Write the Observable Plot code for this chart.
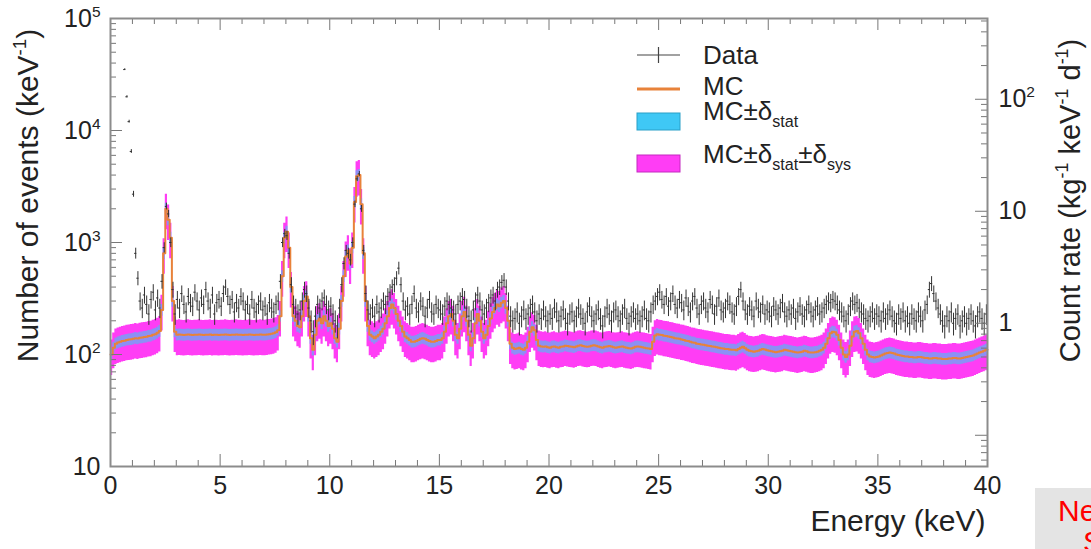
<!DOCTYPE html>
<html><head><meta charset="utf-8">
<script src="https://cdn.jsdelivr.net/npm/d3@7"></script>
<script src="https://cdn.jsdelivr.net/npm/@observablehq/plot@0.6"></script>
<style>
html,body{margin:0;padding:0;background:#fff;overflow:hidden;}
#wrap{position:relative;width:1091px;height:549px;overflow:hidden;}
#note{position:absolute;left:1035px;top:488px;width:120px;height:80px;background:#e4e4e4;font-family:"Liberation Sans",Arial,sans-serif;font-size:30px;color:#f00;}
#note span{position:absolute;white-space:nowrap;line-height:28px;}
</style></head><body><div id="wrap"><div id="note"><span style="left:23px;top:9px">Ne</span><span style="left:48px;top:40px">S</span></div></div>
<script>
// ---- data (0.1 keV bins, 0–40 keV) ----
const binWidth = 0.1;
const mcValues = [
100,115,125,128,130,132,133,135,136,137,
138,140,139,141,142,143,144,146,147,150,
152,156,162,250,800,2000,1600,1100,300,160,
150,151,150,149,150,151,150,149,150,150,
151,150,149,150,150,151,149,150,150,149,
150,150,151,150,149,150,150,151,150,150,
149,150,150,151,150,149,150,150,151,150,
150,151,152,153,155,158,165,220,500,1100,
1250,900,400,220,200,180,175,220,300,330,
220,140,110,150,200,210,190,220,200,180,
190,170,140,130,170,300,500,750,850,650,
900,2300,3900,4000,2200,800,300,180,150,145,
140,145,150,160,170,190,220,260,280,260,
230,200,180,160,145,140,135,130,130,132,
135,138,140,138,135,132,130,130,132,135,
135,140,160,190,220,230,200,150,140,170,
220,240,200,150,120,140,190,230,200,160,
140,150,180,210,240,260,280,270,290,300,
260,200,125,115,112,113,115,112,110,115,
130,160,175,165,135,120,118,117,118,116,
115,117,118,116,115,117,118,120,119,118,
117,116,118,120,121,119,118,117,118,120,
121,120,118,116,115,117,118,119,118,116,
115,116,117,118,116,115,114,113,115,117,
118,117,116,115,114,113,112,130,148,152,
150,149,147,146,145,143,142,140,139,138,
136,135,133,132,130,128,127,125,124,123,
122,121,120,119,118,117,116,115,114,113,
112,112,111,110,110,109,112,115,117,114,
110,108,107,106,107,108,110,112,111,109,
108,107,106,105,106,107,108,110,109,108,
107,106,105,104,105,106,108,107,105,104,
104,105,106,108,110,115,125,140,155,160,
158,150,135,115,100,95,100,120,145,160,
162,155,140,125,110,100,96,95,94,95,
96,98,100,102,103,104,103,102,100,99,
98,97,96,96,95,95,94,94,95,95,
94,93,93,92,92,93,93,92,92,91,
91,91,92,92,93,93,92,92,93,94,
95,96,97,98,100,102,104,106,108,110
];
const dataValues = [
null,null,null,null,null,null,35000,20000,12000,6500,
2700,800,480,300,260,340,280,230,310,360,
250,320,260,450,900,2100,1800,1000,380,230,
310,260,350,280,240,330,290,270,360,300,
250,320,280,380,300,260,340,230,290,310,
270,350,400,330,280,310,240,290,260,330,
300,250,280,230,310,260,240,280,300,250,
270,230,290,260,240,280,300,450,1000,1200,
1150,800,420,280,260,230,250,300,380,350,
260,200,160,220,280,260,300,320,280,250,
270,230,200,180,260,420,650,850,800,700,
1000,2200,3700,4100,2000,850,350,250,230,260,
220,280,240,260,300,280,330,360,400,420,
480,590,420,300,250,270,230,280,350,260,
240,300,270,220,260,310,240,230,280,260,
250,230,270,300,280,260,250,230,280,300,
330,310,260,220,200,250,300,340,300,250,
230,260,290,320,340,300,380,400,440,460,
400,300,220,200,210,240,190,220,250,210,
230,260,280,240,200,230,210,250,220,200,
230,210,260,240,200,220,250,210,190,230,
240,200,220,260,230,210,190,240,270,220,
200,230,250,210,180,220,260,230,200,240,
250,220,200,230,260,210,190,220,240,210,
230,200,220,250,210,200,240,280,300,330,
360,310,280,330,270,300,350,280,260,310,
290,250,320,270,240,300,330,260,230,280,
300,260,240,310,280,230,270,320,250,240,
260,300,280,240,230,270,330,380,300,250,
230,270,250,220,300,260,240,280,230,250,
240,220,270,250,230,260,290,240,220,250,
230,260,210,240,270,230,220,250,280,240,
220,250,270,230,240,260,280,300,290,310,
300,280,250,240,220,200,230,270,300,280,
290,260,240,230,210,200,220,240,210,230,
220,200,240,210,230,250,220,200,190,230,
210,240,200,220,190,230,210,200,240,220,
200,250,280,380,430,350,300,260,230,200,
180,220,200,240,190,210,230,180,200,220,
190,210,230,200,180,220,240,210,190,230
];
const statRelErr = 0.12;   // MC statistical uncertainty (relative)
const sysRelErr = 0.35;    // MC stat+sys uncertainty (relative)
const exposure = 190;      // kg·d, converts events/keV to count rate

// ---- ticks & labels ----
const xTicks = [0,5,10,15,20,25,30,35,40];
const xTickLabels = ["0","5","10","15","20","25","30","35","40"];
const xMinor = [1,2,3,4,6,7,8,9,11,12,13,14,16,17,18,19,21,22,23,24,26,27,28,29,31,32,33,34,36,37,38,39];
const yDecades = [10,100,1000,10000,100000];
const yDecadeLabels = ["10","10^{2}","10^{3}","10^{4}","10^{5}"];
const yMinor = [20,30,40,50,60,70,80,90,200,300,400,500,600,700,800,900,2000,3000,4000,5000,6000,7000,8000,9000,20000,30000,40000,50000,60000,70000,80000,90000];
const rDecades = [1,10,100];
const rDecadeLabels = ["1","10","10^{2}"];
const rMajorNoLabel = [0.1];
const rMinor = [0.06,0.07,0.08,0.09,0.2,0.3,0.4,0.5,0.6,0.7,0.8,0.9,2,3,4,5,6,7,8,9,20,30,40,50,60,70,80,90,200,300,400,500];
const xTitle = "Energy (keV)";
const yTitle = "Number of events (keV^{-1})";
const y2Title = "Count rate (kg^{-1} keV^{-1} d^{-1})";
const legendLabels = ["Data","MC","MC±δ_{stat}","MC±δ_{stat}±δ_{sys}"];

// ---- tables ----
const mcSteps = mcValues.map((v,i)=>({x:i*binWidth, v}));
mcSteps.push({x: mcValues.length*binWidth, v: mcValues[mcValues.length-1]});
const dataPts = dataValues.map((v,i)=>({x1:i*binWidth, x2:(i+1)*binWidth, xc:(i+0.5)*binWidth, v,
  lo: v==null?null: v - Math.sqrt(v*binWidth)/binWidth, hi: v==null?null: v + Math.sqrt(v*binWidth)/binWidth}))
  .filter(d=>d.v!=null);

const W=1091,H=549,mL=110,mR=104,mT=18,mB=83;
const fw=W-mL-mR, fh=H-mT-mB;
const FONT='"Liberation Sans", Arial, Helvetica, sans-serif';
const tickColor="#777";

const svg = Plot.plot({
  width:W, height:H, marginLeft:mL, marginRight:mR, marginTop:mT, marginBottom:mB,
  x:{domain:[0,40], axis:null},
  y:{type:"log", domain:[10,1e5], axis:null},
  style:{fontFamily:FONT, background:"white", color:"#222"},
  marks:[
    Plot.areaY(mcSteps,{x:"x", y1:d=>d.v*(1-sysRelErr), y2:d=>d.v*(1+sysRelErr), curve:"step-after", fill:"#ff3df5"}),
    Plot.areaY(mcSteps,{x:"x", y1:d=>d.v*(1-statRelErr), y2:d=>d.v*(1+statRelErr), curve:"step-after", fill:"#3fc8f5", fillOpacity:0.6}),
    Plot.line(mcSteps,{x:"x", y:"v", curve:"step-after", stroke:"#e8823a", strokeWidth:2}),
    Plot.ruleX(dataPts,{x:"xc", y1:"lo", y2:"hi", stroke:"#333", strokeWidth:1}),
    Plot.ruleY(dataPts,{y:"v", x1:"x1", x2:"x2", stroke:"#333", strokeWidth:1}),
    // bottom/top ticks
    Plot.tickX(xTicks,{x:d=>d, insetTop:fh-12, stroke:tickColor}),
    Plot.tickX(xMinor,{x:d=>d, insetTop:fh-6, stroke:tickColor}),
    Plot.tickX(xTicks,{x:d=>d, insetBottom:fh-12, stroke:tickColor}),
    Plot.tickX(xMinor,{x:d=>d, insetBottom:fh-6, stroke:tickColor}),
    // left ticks
    Plot.tickY(yDecades,{y:d=>d, insetRight:fw-12, stroke:tickColor}),
    Plot.tickY(yMinor,{y:d=>d, insetRight:fw-6, stroke:tickColor}),
    // right ticks (count-rate scale)
    Plot.tickY(rDecades.concat(rMajorNoLabel),{y:d=>d*exposure, insetLeft:fw-12, stroke:tickColor}),
    Plot.tickY(rMinor,{y:d=>d*exposure, insetLeft:fw-6, stroke:tickColor}),
    Plot.frame({stroke:"#8c8c8c", strokeWidth:2}),
    // tick labels
    Plot.text(xTicks,{x:d=>d, text:(d,i)=>xTickLabels[i], frameAnchor:"bottom", dy:27, fontSize:25}),
    Plot.text(yDecades,{y:d=>d, text:(d,i)=>yDecadeLabels[i], frameAnchor:"left", dx:-10, textAnchor:"end", fontSize:25}),
    Plot.text(rDecades,{y:d=>d*exposure, text:(d,i)=>rDecadeLabels[i], frameAnchor:"right", dx:11, textAnchor:"start", fontSize:25}),
    // titles
    Plot.text([xTitle],{text:d=>d, frameAnchor:"bottom-right", dy:64, dx:-2, textAnchor:"end", fontSize:30}),
    Plot.text([yTitle],{text:d=>d, frameAnchor:"left", rotate:-90, dx:-82, dy:-47, textAnchor:"middle", fontSize:30}),
    Plot.text([y2Title],{text:d=>d, frameAnchor:"right", rotate:-90, dx:83, dy:-42, textAnchor:"middle", fontSize:29})
  ]
});
document.getElementById("wrap").prepend(svg);

// legend
const lg = d3.select(svg).append("g").attr("font-family",FONT).attr("font-size",26).attr("fill","#222").attr("text-anchor","start");
lg.append("line").attr("x1",637).attr("x2",680).attr("y1",55).attr("y2",55).attr("stroke","#444").attr("stroke-width",1.2);
lg.append("line").attr("x1",658.5).attr("x2",658.5).attr("y1",47).attr("y2",63).attr("stroke","#444").attr("stroke-width",1.2);
lg.append("line").attr("x1",637).attr("x2",680).attr("y1",89).attr("y2",89).attr("stroke","#e8823a").attr("stroke-width",3);
lg.append("rect").attr("x",637).attr("y",113).attr("width",43).attr("height",17).attr("fill","#3fc8f5").attr("stroke","#2aa0c8");
lg.append("rect").attr("x",637).attr("y",155).attr("width",43).attr("height",17).attr("fill","#ff3df5").attr("stroke","#c42ac0");
const ly=[55,86,120,163];
legendLabels.forEach((t,i)=>lg.append("text").attr("x",703).attr("y",ly[i]).attr("dy","0.35em").text(t));

// rich text: ^{..} superscript, _{..} subscript
function richText(root){
  root.querySelectorAll("text").forEach(t=>{
    const s=t.textContent;
    if(!/[\^_]\{/.test(s)) return;
    const fs=parseFloat(getComputedStyle(t).fontSize)||20;
    const parts=[]; const re=/([\^_])\{([^}]*)\}/g; let last=0,m;
    while((m=re.exec(s))){ if(m.index>last) parts.push({t:s.slice(last,m.index),k:""}); parts.push({t:m[2],k:m[1]}); last=re.lastIndex; }
    if(last<s.length) parts.push({t:s.slice(last),k:""});
    while(t.firstChild) t.removeChild(t.firstChild);
    let shift=0;
    for(const p of parts){
      const ts=document.createElementNS("http://www.w3.org/2000/svg","tspan");
      const target=p.k==="^"?-0.4*fs:p.k==="_"?0.28*fs:0;
      ts.setAttribute("dy",target-shift); shift=target;
      if(p.k) ts.setAttribute("font-size",0.62*fs);
      ts.textContent=p.t; t.appendChild(ts);
    }
  });
}
richText(svg);
</script></body></html>
